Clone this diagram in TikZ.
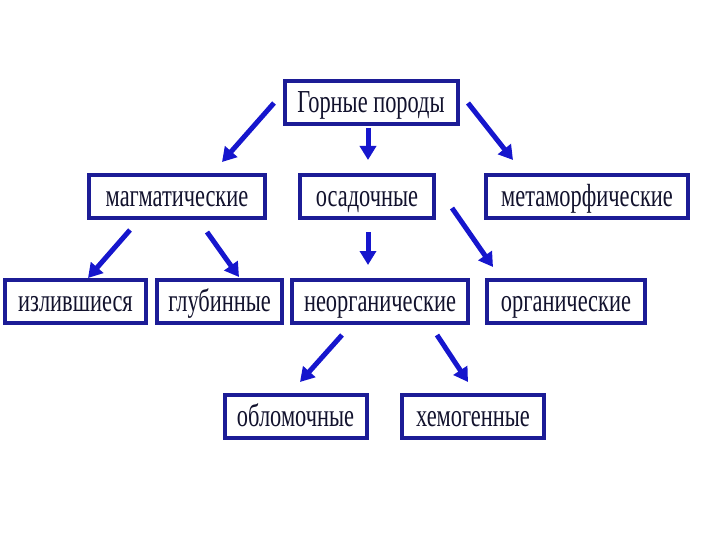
\documentclass[tikz,border=0pt]{standalone}
\usepackage{fontspec}
\setmainfont{Liberation Serif}[FakeStretch=0.7]
\usetikzlibrary{arrows.meta}
\usetikzlibrary{calc}
\definecolor{boxblue}{RGB}{28,28,150}
\definecolor{arrowblue}{RGB}{22,22,205}
\definecolor{inkdark}{RGB}{18,18,45}
\tikzstyle{rock}=[rectangle,draw=boxblue,line width=4pt,fill=white,text=inkdark,inner sep=0pt,minimum height=43pt,text height=20pt,text depth=0pt,font=\fontsize{32}{36}\selectfont]
\tikzstyle{pointer} = [draw=arrowblue,line width=5pt,-{Triangle[width=16pt,length=14pt]}]

\begin{document}
\begin{tikzpicture}[x=1pt,y=-1pt]
    \useasboundingbox (0,0) rectangle (720,540);

    \foreach \pos/\name/\word/\boxw in {{(371,103)/top/Горные породы/173}, {(177,196.5)/mag/магматические/176}, {(367,196.5)/osad/осадочные/134}, {(587,196.5)/meta/метаморфические/202}, {(75.5,301)/izl/излившиеся/141}, {(219.5,301)/glub/глубинные/125}, {(380,301)/neorg/неорганические/176}, {(566,301)/org/органические/158}, {(295.5,416)/oblom/обломочные/142}, {(473,416)/hemo/хемогенные/142}}
        \node[rock,minimum width=\boxw pt] (\name) at \pos {\word};

    \foreach \source/\sx/\sy/\dest/\dx/\dy in {top/-97/0/mag/45/-34.5, top/-3/25/osad/1/-36.5, top/97/0/meta/-74/-36.5, mag/-47/33.5/izl/12.5/-23, mag/30/35.5/glub/19.5/-24, osad/1/35.5/neorg/-12/-36, osad/85/11.5/org/-73/-34, neorg/-38/34/oblom/4.5/-34, neorg/57/34/hemo/-5/-34}
        \path[pointer] ($(\source)+(\sx,\sy)$) -- ($(\dest)+(\dx,\dy)$);

\end{tikzpicture}
\end{document}
